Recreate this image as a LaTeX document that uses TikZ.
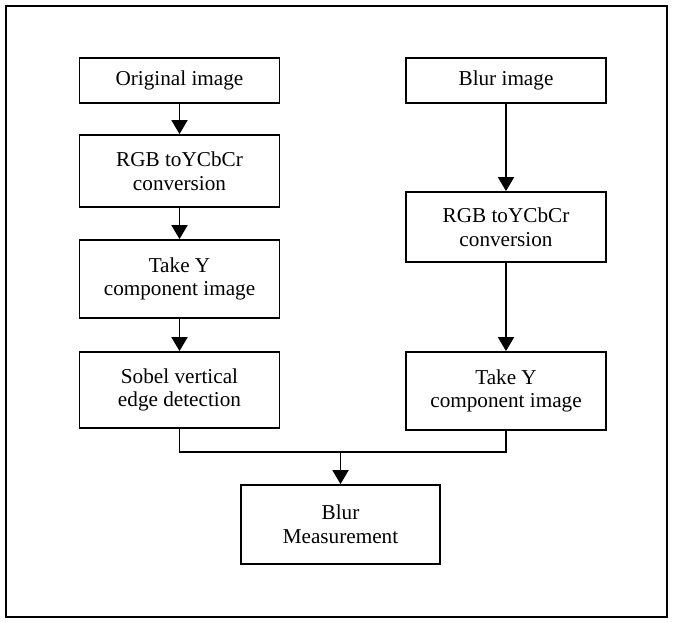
\documentclass[tikz,border=0pt]{standalone}
\usepackage{fontspec}
\setmainfont{Liberation Serif}
\usetikzlibrary{arrows.meta}
\begin{document}
\begin{tikzpicture}[x=0.5pt,y=-0.5pt,line join=miter,>={Triangle[length=7pt,width=8pt]},
	font=\fontsize{10.6}{11.8}\selectfont,
	box/.style={draw,line width=0.9pt,minimum width=100pt,align=center,inner sep=0pt},
	link/.style={line width=0.9pt}]
	\useasboundingbox (0,0) rectangle (673,622);
	\draw[line width=1.3pt] (6,6) rectangle (667,617);
	\node[box,minimum height=22.5pt] (orig) at (179.5,80.5) {Original image};
	\node[box,minimum height=36pt] (rgbL) at (179.5,171) {RGB toYCbCr\\conversion};
	\node[box,minimum height=39pt] (takeL) at (179.5,279) {Take Y\\component image};
	\node[box,minimum height=38pt] (sobel) at (179.5,390) {Sobel vertical\\edge detection};
	\node[box,minimum height=22.5pt] (blur) at (506,80.5) {Blur image};
	\node[box,minimum height=35pt] (rgbR) at (506,227) {RGB toYCbCr\\conversion};
	\node[box,minimum height=39pt] (takeR) at (506,391) {Take Y\\component image};
	\node[box,minimum width=99.5pt,minimum height=39.5pt] (meas) at (340.5,524.5) {Blur\\Measurement};
	\coordinate (split) at (340.5,452);
	\draw[link,->] (orig) -- (rgbL);
	\draw[link,->] (rgbL) -- (takeL);
	\draw[link,->] (takeL) -- (sobel);
	\draw[link,->] (blur) -- (rgbR);
	\draw[link,->] (rgbR) -- (takeR);
	\draw[link] (sobel.south) |- (split) -| (takeR.south);
	\draw[link,->] (split) -- (meas);
\end{tikzpicture}
\end{document}
